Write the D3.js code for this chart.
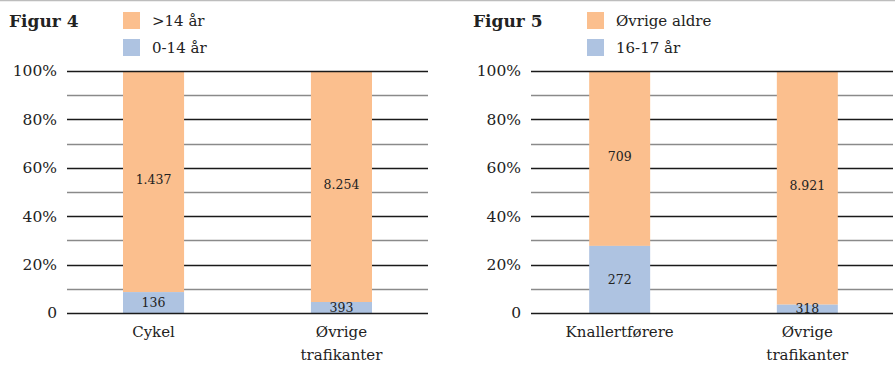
<!DOCTYPE html>
<html>
<head>
<meta charset="utf-8">
<script src="https://cdn.jsdelivr.net/npm/d3@7"></script>
<style>
  html, body { margin: 0; padding: 0; background: #fff; }
  svg { display: block; }
  .t { font-family: "DejaVu Serif", serif; fill: #222; }
</style>
</head>
<body>
<svg id="c" width="895" height="365"></svg>
<script>
// Figur 4: cyclists vs. other road users, split by age
const fig4Title = "Figur 4";
const fig4Categories = ["Cykel", "Øvrige\ntrafikanter"];
const fig4Lower = [136, 393];      // 0-14 år
const fig4Upper = [1437, 8254];    // >14 år
const fig4Legend = [">14 år", "0-14 år"];

// Figur 5: moped riders vs. other road users, split by age
const fig5Title = "Figur 5";
const fig5Categories = ["Knallertførere", "Øvrige\ntrafikanter"];
const fig5Lower = [272, 318];      // 16-17 år
const fig5Upper = [709, 8921];     // Øvrige aldre
const fig5Legend = ["Øvrige aldre", "16-17 år"];

const tickValues = [0, 10, 20, 30, 40, 50, 60, 70, 80, 90, 100];
const tickLabels = {0: "0", 20: "20%", 40: "40%", 60: "60%", 80: "80%", 100: "100%"};

const colUpper = "#fbbf8e";
const colLower = "#aec3e1";
const fmt = v => v >= 1000 ? Math.floor(v / 1000) + "." + String(v % 1000).padStart(3, "0") : String(v);

const svg = d3.select("#c");

// thin rule across the top
svg.append("line").attr("x1", 0).attr("x2", 895).attr("y1", 0.5).attr("y2", 0.5)
  .attr("stroke", "#bdbdbd").attr("stroke-width", 1.5);

function panel(ox, plotW, bandW, outerPad, title, cats, lower, upper, legend) {
  const g = svg.append("g").attr("transform", `translate(${ox},0)`);
  const y = d3.scaleLinear().domain([0, 100]).range([313, 71]);
  const x = d3.scaleBand().domain(cats).range([0, bandW]).paddingInner(0.675).paddingOuter(outerPad);
  const yy = d => Math.round(y(d)) + 0.5;

  // title
  g.append("text").attr("class", "t").attr("x", -58).attr("y", 27)
    .attr("font-size", 17).attr("font-weight", "bold").attr("fill", "#111").text(title);

  // legend
  const leg = [colUpper, colLower];
  legend.forEach((lbl, i) => {
    g.append("rect").attr("x", 56).attr("y", 12 + i * 27).attr("width", 17).attr("height", 17).attr("fill", leg[i]);
    g.append("text").attr("class", "t").attr("x", 85).attr("y", 26 + i * 27)
      .attr("font-size", 15).text(lbl);
  });

  const gridColor = d => d % 20 === 0 ? "#1a1a1a" : "#8a8a8a";

  // gridlines behind the bars: solid dark every 20 %, grey in between
  g.append("g").selectAll("line").data(tickValues.filter(d => d > 0 && d < 100)).join("line")
    .attr("x1", 0).attr("x2", plotW).attr("y1", yy).attr("y2", yy)
    .attr("stroke", gridColor).attr("stroke-width", 1.4);

  // y-axis labels
  const yAxis = d3.axisLeft(y).tickValues(tickValues.filter(d => d % 20 === 0))
    .tickFormat(d => tickLabels[d]).tickSize(0).tickPadding(10);
  const ya = g.append("g").call(yAxis);
  ya.select(".domain").remove();
  ya.selectAll("text").attr("class", "t").attr("font-size", 15.5).attr("fill", "#222")
    .attr("font-family", "DejaVu Serif, serif");

  // stacked bars (percent of category total)
  cats.forEach((c, i) => {
    const tot = lower[i] + upper[i];
    const pl = lower[i] / tot * 100;
    const bx = x(c), bw = x.bandwidth();
    g.append("rect").attr("x", bx).attr("width", bw)
      .attr("y", y(100)).attr("height", y(pl) - y(100)).attr("fill", colUpper);
    g.append("rect").attr("x", bx).attr("width", bw)
      .attr("y", y(pl)).attr("height", y(0) - y(pl)).attr("fill", colLower);
    // value labels
    g.append("text").attr("class", "t").attr("text-anchor", "middle").attr("font-size", 12.5)
      .attr("x", bx + bw / 2).attr("y", (y(100) + y(pl)) / 2).attr("dy", "0.2em")
      .text(fmt(upper[i]));
    g.append("text").attr("class", "t").attr("text-anchor", "middle").attr("font-size", 12.5)
      .attr("x", bx + bw / 2).attr("y", (y(pl) + y(0)) / 2).attr("dy", "0.35em")
      .text(fmt(lower[i]));
    // category labels
    c.split("\n").forEach((line, k) => {
      g.append("text").attr("class", "t").attr("text-anchor", "middle").attr("font-size", 15)
        .attr("x", bx + bw / 2).attr("y", 337 + k * 23).text(line);
    });
  });

  // top and baseline rules drawn over the bars
  g.append("g").selectAll("line").data([0, 100]).join("line")
    .attr("x1", 0).attr("x2", plotW).attr("y1", yy).attr("y2", yy)
    .attr("stroke", gridColor).attr("stroke-width", 1.4);
}

panel(67, 361, 361, 0.298, fig4Title, fig4Categories, fig4Lower, fig4Upper, fig4Legend);
panel(531, 362, 365, 0.31, fig5Title, fig5Categories, fig5Lower, fig5Upper, fig5Legend);
</script>
</body>
</html>
